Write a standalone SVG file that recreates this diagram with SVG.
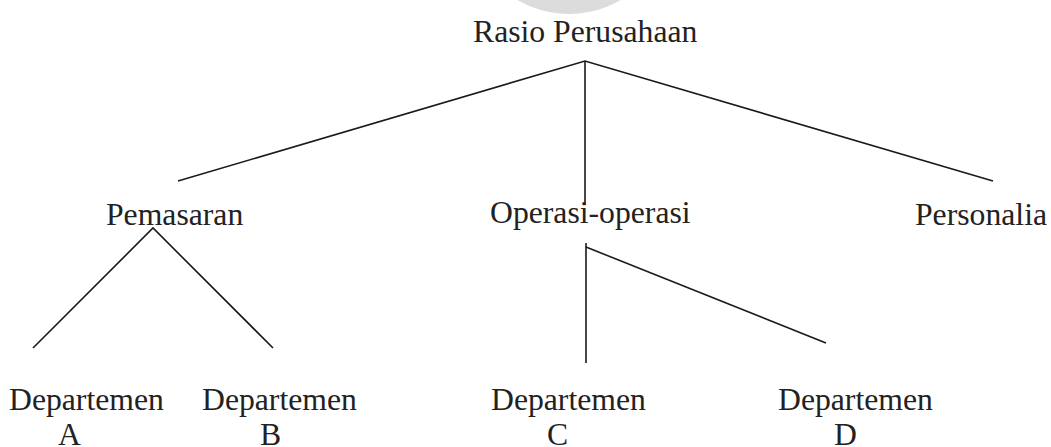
<svg xmlns="http://www.w3.org/2000/svg" width="1051" height="447" viewBox="0 0 1051 447">
  <style>
    .lbl { font-family: "Liberation Serif", "Times New Roman", serif; font-size: 31.7px; fill: #222; }
    .edge { stroke: #1a1a1a; stroke-width: 1.6; fill: none; stroke-linecap: butt; stroke-linejoin: miter; }
  </style>
  <rect width="1051" height="447" fill="#ffffff"/>

  <!-- faint emblem at the top edge -->
  <circle cx="569" cy="-88" r="102" fill="#dcdcdc"/>

  <g id="connectors">
    <path class="edge" d="M178,181 L585,61 L993,181"/>
    <path class="edge" d="M585,61 L585,205"/>
    <path class="edge" d="M33,348 L153,228 L273,348"/>
    <path class="edge" d="M586,243 L586,363"/>
    <path class="edge" d="M586,247 L826,343"/>
  </g>

  <g id="root">
    <text class="lbl" x="473" y="41.5">Rasio Perusahaan</text>
  </g>
  <g id="pemasaran">
    <text class="lbl" x="106" y="225">Pemasaran</text>
  </g>
  <g id="operasi">
    <text class="lbl" x="490" y="223">Operasi-operasi</text>
  </g>
  <g id="personalia">
    <text class="lbl" x="915" y="225">Personalia</text>
  </g>
  <g id="dept-a">
    <text class="lbl" x="9" y="410">Departemen</text>
    <text class="lbl" x="58" y="445">A</text>
  </g>
  <g id="dept-b">
    <text class="lbl" x="202" y="410">Departemen</text>
    <text class="lbl" x="260" y="445">B</text>
  </g>
  <g id="dept-c">
    <text class="lbl" x="491" y="410">Departemen</text>
    <text class="lbl" x="547" y="445">C</text>
  </g>
  <g id="dept-d">
    <text class="lbl" x="778" y="410">Departemen</text>
    <text class="lbl" x="834" y="445">D</text>
  </g>
</svg>
